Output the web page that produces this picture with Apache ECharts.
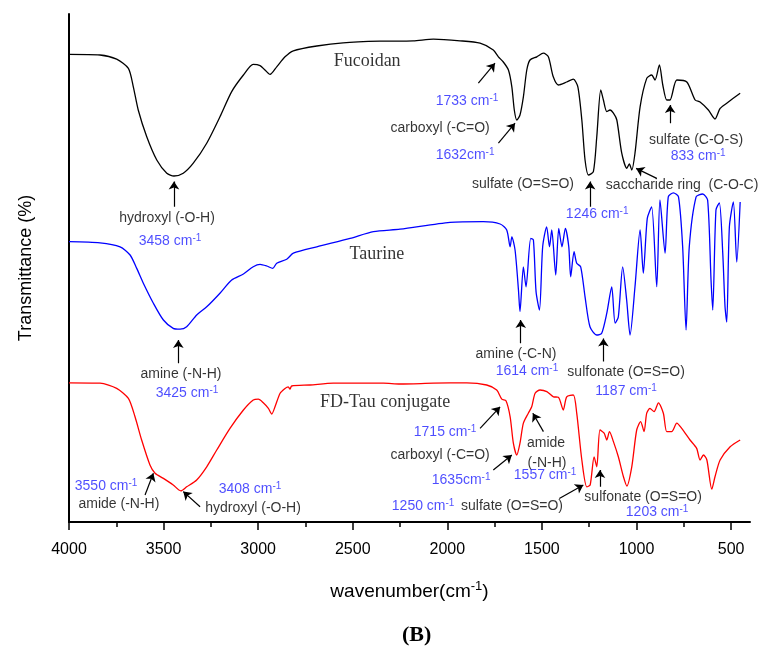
<!DOCTYPE html>
<html><head><meta charset="utf-8">
<script src="https://cdn.jsdelivr.net/npm/echarts@6/dist/echarts.min.js"></script>
<style>html,body{margin:0;padding:0;background:#fff}#c{width:767px;height:650px}</style>
</head><body><div id="c"></div><script>
// tick labels (wavenumber, cm-1)
const majorTicks=[4000,3500,3000,2500,2000,1500,1000,500];
const minorTicks=[3750,3250,2750,2250,1750,1250,750];
// spectra: [wavenumber, transmittance (offset, arbitrary %)]
const fucoidan=[[4000,116.9],[3836,116.75],[3748,115.7],[3686,113.4],[3660,108.8],[3634,103],[3589,96.3],[3536,90.5],[3483,87.2],[3445,86.5],[3396,87.2],[3343,89.7],[3272,94.7],[3202,101.3],[3140,107.6],[3078,111.75],[3026,114.4],[2990,114.1],[2964,113],[2937,111.9],[2902,113.8],[2858,116.3],[2814,117.8],[2690,119],[2551,119.8],[2356,120.2],[2180,120.3],[2074,120.7],[1933,120.3],[1827,119.7],[1757,118],[1730,116.3],[1704,115],[1677,113],[1659,108.8],[1646,103],[1633,100.5],[1616,101.75],[1598,106.3],[1580,113],[1563,115.5],[1527,116.3],[1492,117.2],[1466,116.3],[1440,111.3],[1413,109.25],[1369,110],[1334,110.7],[1310,108.8],[1289,100.5],[1272,90.5],[1254,86.75],[1228,87.6],[1210,96.3],[1189,108],[1175,105.5],[1157,102.6],[1140,103],[1122,102.2],[1104,100.5],[1078,92.2],[1051,88.4],[1038,89.5],[1025,88],[1008,92.2],[981,103.8],[946,110.9],[920,111.75],[902,110.5],[879,114.25],[861,109.25],[840,105.5],[823,105.5],[787,110.5],[734,110],[690,105.5],[664,105],[620,103],[585,100.75],[558,103.4],[523,104.7],[452,107.2]];
const taurine=[[4000,70.1],[3836,69.8],[3730,68.8],[3677,66.75],[3642,63.4],[3607,59.7],[3554,54.7],[3501,50.5],[3449,48.4],[3413,48.2],[3378,48.8],[3325,51.75],[3272,53.8],[3202,57.2],[3140,60.5],[3078,62],[3026,63.8],[2990,64.4],[2955,64],[2923,63.4],[2902,64.7],[2849,65.7],[2814,67.2],[2690,68.8],[2514,70.9],[2391,72.6],[2250,73.2],[1986,74.9],[1810,75.1],[1721,74.5],[1686,73],[1668,68.8],[1659,71.3],[1642,68],[1624,58],[1616,52.6],[1598,63.8],[1584,58.8],[1559,70.9],[1545,70.5],[1531,57.6],[1513,53],[1496,68.8],[1475,73.8],[1460,68.8],[1448,73],[1427,61.75],[1411,73.4],[1394,68.8],[1376,73.4],[1358,68.8],[1348,61.3],[1330,67.6],[1316,64.7],[1295,63.8],[1272,56.3],[1246,48.8],[1210,46.75],[1184,47.2],[1157,52.2],[1131,58.8],[1113,49.7],[1096,51.3],[1073,63.8],[1052,55.5],[1034,46.75],[1008,58.8],[981,73],[964,62.2],[943,75.9],[920,78.8],[893,58.8],[876,80.5],[849,67.2],[832,81.3],[805,82.3],[778,81.3],[756,68.8],[738,48],[721,68.8],[685,81.3],[650,82],[624,80.5],[606,60.5],[597,53],[580,78],[562,79.8],[544,67.2],[532,53.8],[523,50],[509,73.8],[488,80],[470,65],[452,80]];
const conjugate=[[4000,34.8],[3836,34.7],[3748,33.4],[3686,30.9],[3651,26.3],[3616,20.5],[3572,14.25],[3545,12.2],[3501,10.9],[3449,9.25],[3409,7.8],[3378,8.8],[3325,10.5],[3272,13.8],[3219,18],[3149,23.4],[3078,28],[3026,30.5],[2999,30.7],[2973,29.8],[2946,28.4],[2928,27],[2911,28.8],[2884,32.2],[2858,33.4],[2841,33.8],[2832,33.2],[2823,34],[2726,34.25],[2603,34.7],[2338,34.7],[2250,34.5],[2074,34.7],[1897,34.8],[1792,34.25],[1739,33],[1712,30.7],[1690,30.3],[1668,26.3],[1651,19.7],[1633,16.75],[1616,19.7],[1598,24.7],[1572,27.2],[1554,28.8],[1536,32.2],[1510,33],[1474,32.6],[1439,31.3],[1413,31.2],[1387,28],[1369,31.3],[1334,31.75],[1316,27.2],[1289,15.5],[1263,8.8],[1245,9.25],[1224,16.3],[1210,13.8],[1193,23],[1171,22.2],[1157,20.5],[1143,22.6],[1122,20.1],[1096,16.3],[1069,11.3],[1051,9],[1025,13.8],[999,23],[978,25.1],[960,22.6],[946,27.2],[929,28.4],[907,27.6],[884,29.8],[858,27.2],[840,22.6],[814,22.6],[787,24.7],[761,23.4],[717,20.5],[682,18.4],[664,15.5],[646,16.75],[628,15.5],[602,8.2],[585,11.3],[558,15.5],[505,18.8],[452,20.5]];
const seriesNames=['Fucoidan','Taurine','FD-Tau conjugate'];
// annotations: [wavenumber, transmittance, text, kind]  (k=black, b=blue, s=serif name)
const notes=[
[2424,115.25,'Fucoidan','s'],
[1896,105.25,'1733 cm^-1','b'],
[2038,98.5,'carboxyl (-C=O)','k'],
[1906,91.75,'1632cm^-1','b'],
[1600,84.5,'sulfate (O=S=O)','k'],
[1208,77,'1246 cm^-1','b'],
[759,84.25,'saccharide ring  (C-O-C)','k'],
[685,95.5,'sulfate (C-O-S)','k'],
[674,91.5,'833 cm^-1','b'],
[3482,76,'hydroxyl (-O-H)','k'],
[3466,70.25,'3458 cm^-1','b'],
[2372,67,'Taurine','s'],
[3408,37,'amine (-N-H)','k'],
[3376,32.25,'3425 cm^-1','b'],
[1637,42,'amine (-C-N)','k'],
[1579,37.75,'1614 cm^-1','b'],
[1055,37.5,'sulfonate (O=S=O)','k'],
[1055,32.75,'1187 cm^-1','b'],
[2329,30,'FD-Tau conjugate','s'],
[2012,22.5,'1715 cm^-1','b'],
[2038,16.75,'carboxyl (-C=O)','k'],
[1927,10.5,'1635cm^-1','b'],
[1478,19.75,'amide','k'],
[1473,14.75,'(-N-H)','k'],
[1483,11.75,'1557 cm^-1','b'],
[2128,4,'1250 cm^-1','b'],
[1658,4,'sulfate (O=S=O)','k'],
[965,6.25,'sulfonate (O=S=O)','k'],
[891,2.5,'1203 cm^-1','b'],
[3804,9,'3550 cm^-1','b'],
[3736,4.5,'amide (-N-H)','k'],
[3043,8.25,'3408 cm^-1','b'],
[3027,3.5,'hydroxyl (-O-H)','k']
];
// arrows: [fromWn, fromT, toWn, toT]
const arrows=[
[1836,109.7,1748,114.7],[1730,94.7,1642,99.7],[1245,78.8,1245,85.1],[893,85.9,1002,88.4],
[822,99.7,822,104.25],[3445,78.8,3445,85.1],[3422,39.7,3422,45.5],[1612,44.7,1612,50.5],
[1175,40.1,1175,45.9],[1827,23.4,1721,28.8],[1757,13,1659,16.75],[1492,22.6,1548,27.2],
[1408,5.9,1281,9.25],[1193,8.8,1193,13],[3598,6.75,3554,12.2],[3307,3.8,3396,7.6]
];

const SANS='Liberation Sans', SERIF='Liberation Serif', BLUE='#1f1fff';
function fmt(t,kind){
  const c=kind;
  const p=t.split('^');
  if(p.length===1) return '{'+c+'|'+t+'}';
  return '{'+c+'|'+p[0]+'}{'+c+'s|'+p[1]+'}';
}
const rich={
  k:{fontFamily:SANS,fontSize:14,color:'#000',lineHeight:16},
  ks:{fontFamily:SANS,fontSize:10,color:'#000',lineHeight:16,verticalAlign:'top'},
  b:{fontFamily:SANS,fontSize:14,color:BLUE,lineHeight:16},
  bs:{fontFamily:SANS,fontSize:10,color:BLUE,lineHeight:16,verticalAlign:'top'},
  s:{fontFamily:SERIF,fontSize:18,color:'#000',lineHeight:20}
};
const colors=['#000000','#0000ff','#ff0000'];
const chart=echarts.init(document.getElementById('c'),null,{renderer:'canvas'});
chart.setOption({
  animation:false,
  backgroundColor:'#fff',
  grid:{left:69,right:17,top:14,bottom:128,outerBoundsMode:'none',containLabel:false},
  xAxis:[{
    type:'value',min:400,max:4000,inverse:true,position:'bottom',
    name:'{n|wavenumber(cm}{s|-1}{n|)}',nameLocation:'middle',nameGap:58,
    nameTextStyle:{rich:{n:{fontFamily:SANS,fontSize:19,color:'#000',lineHeight:24},s:{fontFamily:SANS,fontSize:13,color:'#000',lineHeight:24,verticalAlign:'top'}}},
    axisLine:{show:true,lineStyle:{color:'#000',width:2}},
    axisTick:{show:true,customValues:majorTicks,length:8,lineStyle:{color:'#000',width:1.5}},
    axisLabel:{show:true,customValues:majorTicks,formatter:v=>String(v),fontFamily:SANS,fontSize:16,color:'#000',margin:20},
    splitLine:{show:false}
  },{
    type:'value',min:400,max:4000,inverse:true,position:'bottom',
    axisLine:{show:false},
    axisTick:{show:true,customValues:minorTicks,length:5,lineStyle:{color:'#000',width:1.5}},
    axisLabel:{show:false},splitLine:{show:false}
  }],
  yAxis:{
    type:'value',min:0,max:127,
    name:'Transmittance (%)',nameLocation:'middle',nameGap:34,
    nameTextStyle:{fontFamily:SANS,fontSize:18,color:'#000'},
    axisLine:{show:true,lineStyle:{color:'#000',width:2}},
    axisTick:{show:false},axisLabel:{show:false},splitLine:{show:false}
  },
  graphic:[{type:'text',left:402,top:624,style:{text:'(B)',font:'bold 22px "Liberation Serif"',fill:'#000'}}],
  series:[
    ...[fucoidan,taurine,conjugate].map((d,i)=>({
      type:'line',name:seriesNames[i],data:d,showSymbol:false,smooth:0.25,
      lineStyle:{color:colors[i],width:1.3},silent:true,z:2
    })),
    {
      type:'lines',coordinateSystem:'cartesian2d',silent:true,z:4,
      symbol:['none','arrow'],symbolSize:8,
      lineStyle:{color:'#000',width:1.2,opacity:1,curveness:0},
      data:arrows.map(a=>({coords:[[a[0],a[1]],[a[2],a[3]]]}))
    },
    {
      type:'scatter',silent:true,z:5,symbolSize:1,itemStyle:{color:'rgba(0,0,0,0)'},
      data:notes.map(n=>({value:[n[0],n[1]],label:{show:true,position:'inside',formatter:fmt(n[2],n[3]),rich:rich}}))
    }
  ]
});
</script></body></html>
